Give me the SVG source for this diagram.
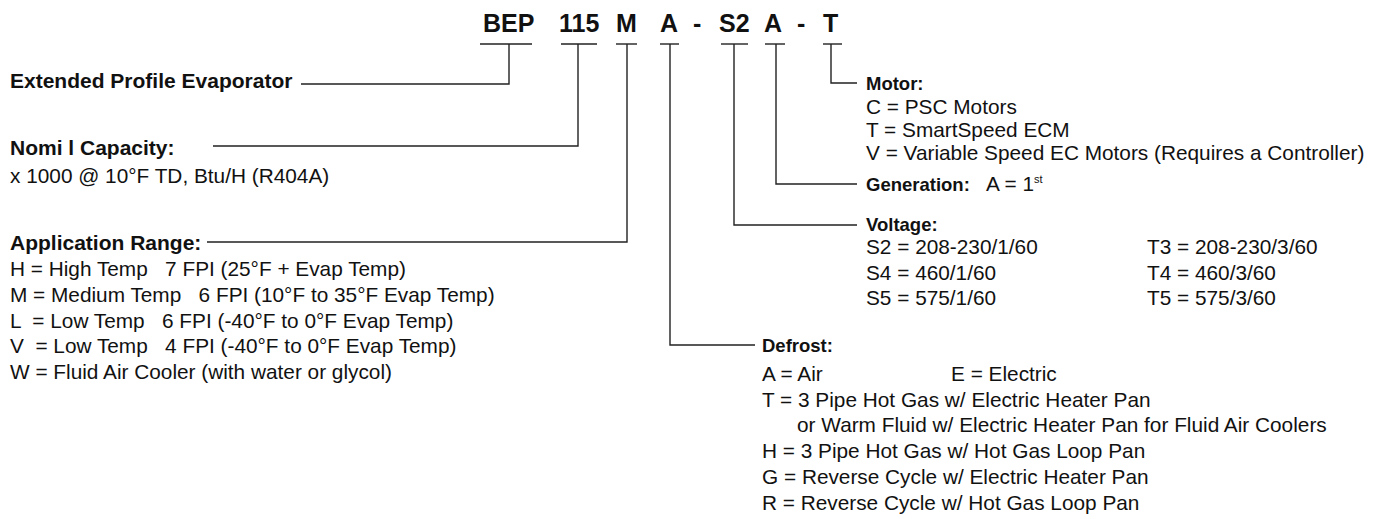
<svg xmlns="http://www.w3.org/2000/svg" width="1374" height="519" viewBox="0 0 1374 519">
<style>
text{font-family:"Liberation Sans",Arial,Helvetica,sans-serif;fill:#111;white-space:pre;}
.code{font-size:25px;font-weight:bold;}
.lbl{font-size:21px;font-weight:bold;}
.rl{font-size:18.5px;font-weight:bold;}
.t{font-size:20.8px;}
.sup{font-size:11px;}
.c line,.c polyline{stroke:#222;stroke-width:1.4;fill:none;}
</style>
<rect width="1374" height="519" fill="#fff"/>
<g id="code">
<text class="code" x="483" y="32">BEP</text>
<text class="code" x="559" y="32">115</text>
<text class="code" x="616" y="32">M</text>
<text class="code" x="660" y="32">A</text>
<text class="code" x="693" y="32">-</text>
<text class="code" x="719" y="32">S2</text>
<text class="code" x="764" y="32">A</text>
<text class="code" x="797" y="32">-</text>
<text class="code" x="823" y="32">T</text>
</g>
<g id="connectors" class="c">
<line x1="480" y1="44" x2="532" y2="44"/>
<line x1="561" y1="44" x2="597" y2="44"/>
<line x1="616" y1="44" x2="637" y2="44"/>
<line x1="660" y1="44" x2="679" y2="44"/>
<line x1="721" y1="44" x2="748" y2="44"/>
<line x1="765" y1="44" x2="785" y2="44"/>
<line x1="823" y1="44" x2="842" y2="44"/>
<polyline points="509,44 509,84 301,84"/>
<polyline points="578,44 578,146 213,146"/>
<polyline points="627,44 627,242 207,242"/>
<polyline points="670,44 670,345 755,345"/>
<polyline points="734,44 734,225 857,225"/>
<polyline points="776,44 776,184 857,184"/>
<polyline points="831,44 831,83 857,83"/>
</g>
<g id="extended">
<text class="lbl" x="10" y="88">Extended Profile Evaporator</text>
</g>
<g id="capacity">
<text class="lbl" x="10" y="155">Nomi l Capacity:</text>
<text class="t" x="10" y="183">x 1000 @ 10°F TD, Btu/H (R404A)</text>
</g>
<g id="application">
<text class="lbl" x="10" y="250">Application Range:</text>
<text class="t" x="10" y="276">H = High Temp   7 FPI (25°F + Evap Temp)</text>
<text class="t" x="10" y="302">M = Medium Temp   6 FPI (10°F to 35°F Evap Temp)</text>
<text class="t" x="10" y="328">L  = Low Temp   6 FPI (-40°F to 0°F Evap Temp)</text>
<text class="t" x="10" y="353">V  = Low Temp   4 FPI (-40°F to 0°F Evap Temp)</text>
<text class="t" x="10" y="379">W = Fluid Air Cooler (with water or glycol)</text>
</g>
<g id="motor">
<text class="rl" x="866" y="90">Motor:</text>
<text class="t" x="866" y="114">C = PSC Motors</text>
<text class="t" x="866" y="137">T = SmartSpeed ECM</text>
<text class="t" x="866" y="160">V = Variable Speed EC Motors (Requires a Controller)</text>
</g>
<g id="generation">
<text class="rl" x="866" y="191">Generation:</text>
<text class="t" x="986" y="191">A = 1<tspan class="sup" dy="-8">st</tspan></text>
</g>
<g id="voltage">
<text class="rl" x="866" y="231">Voltage:</text>
<text class="t" x="866" y="254">S2 = 208-230/1/60</text>
<text class="t" x="866" y="280">S4 = 460/1/60</text>
<text class="t" x="866" y="305">S5 = 575/1/60</text>
<text class="t" x="1147" y="254">T3 = 208-230/3/60</text>
<text class="t" x="1147" y="280">T4 = 460/3/60</text>
<text class="t" x="1147" y="305">T5 = 575/3/60</text>
</g>
<g id="defrost">
<text class="rl" x="762" y="352">Defrost:</text>
<text class="t" x="762" y="381">A = Air</text>
<text class="t" x="951" y="381">E = Electric</text>
<text class="t" x="762" y="407">T = 3 Pipe Hot Gas w/ Electric Heater Pan</text>
<text class="t" x="797" y="432">or Warm Fluid w/ Electric Heater Pan for Fluid Air Coolers</text>
<text class="t" x="762" y="458">H = 3 Pipe Hot Gas w/ Hot Gas Loop Pan</text>
<text class="t" x="762" y="484">G = Reverse Cycle w/ Electric Heater Pan</text>
<text class="t" x="762" y="510">R = Reverse Cycle w/ Hot Gas Loop Pan</text>
</g>
</svg>
